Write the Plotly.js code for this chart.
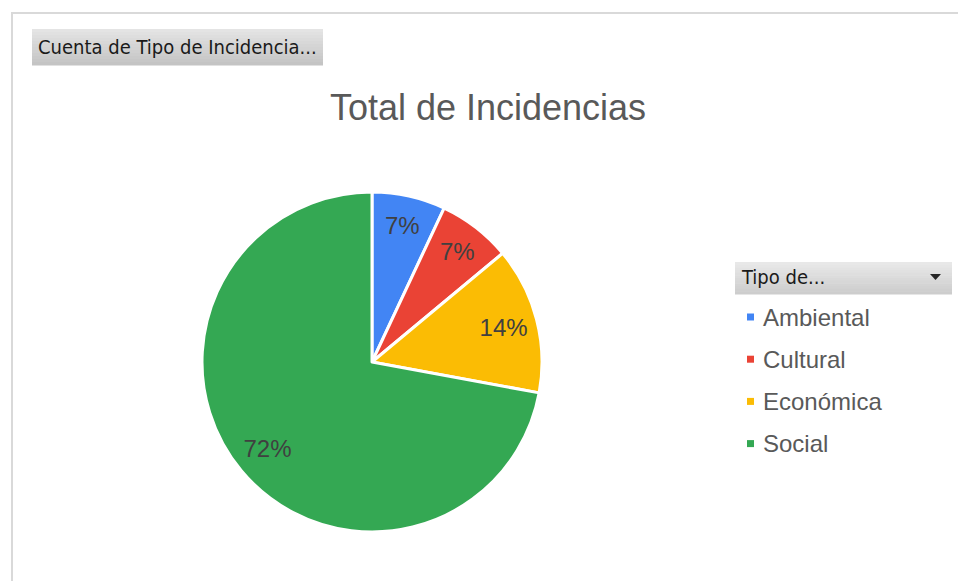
<!DOCTYPE html>
<html>
<head>
<meta charset="utf-8">
<script src="https://cdn.plot.ly/plotly-3.0.1.min.js"></script>
<style>html,body{margin:0;padding:0;background:#fff;}#chart{width:958px;height:581px;}</style>
</head>
<body>
<div id="chart"></div>
<script>
// Data
const categories = ["Ambiental", "Cultural", "Económica", "Social"];
const counts = [3, 3, 6, 31];
const colors = ["#4285F4", "#EA4335", "#FBBC04", "#34A853"];
const chartTitle = "Total de Incidencias";
const fieldButton = "Cuenta de Tipo de Incidencia...";
const legendHeader = "Tipo de...";

const W = 958, H = 581;
const px = x => x / W;
const py = y => 1 - y / H;

const shapes = [];
const annotations = [];

// frame lines
shapes.push({type:'line', xref:'paper', yref:'paper', x0:px(11), x1:px(958), y0:py(13), y1:py(13), line:{color:'#d9d9d9', width:2}});
shapes.push({type:'line', xref:'paper', yref:'paper', x0:px(12), x1:px(12), y0:py(12), y1:py(581), line:{color:'#d9d9d9', width:2}});

// gradient box helper
function gradBox(x0, y0, x1, y1, top, bottom, n) {
  const hex = c => [1,3,5].map(i => parseInt(c.substr(i,2),16));
  const a = hex(top), b = hex(bottom);
  const h = (y1 - y0) / n;
  for (let i = 0; i < n; i++) {
    const t = n === 1 ? 0 : i / (n - 1);
    const c = a.map((v, k) => Math.round(v + (b[k] - v) * t));
    shapes.push({type:'rect', xref:'paper', yref:'paper', layer:'below',
      x0:px(x0), x1:px(x1), y0:py(y0 + i*h), y1:py(y0 + (i+1)*h + 0.5),
      line:{width:0}, fillcolor:`rgb(${c[0]},${c[1]},${c[2]})`});
  }
}

// field button
gradBox(32, 29, 323, 65, '#e4e4e4', '#c4c4c4', 12);
annotations.push({xref:'paper', yref:'paper', x:px(36), y:py(47), xanchor:'left', yanchor:'middle',
  text:fieldButton, showarrow:false, font:{family:'DejaVu Sans Condensed', size:20, color:'#1a1a1a'}});

// legend header
gradBox(735, 262, 952, 294, '#e8e8e8', '#cdcdcd', 12);
annotations.push({xref:'paper', yref:'paper', x:px(739), y:py(277), xanchor:'left', yanchor:'middle',
  text:legendHeader, showarrow:false, font:{family:'DejaVu Sans Condensed', size:20, color:'#1a1a1a'}});
shapes.push({type:'path', xref:'paper', yref:'paper',
  path:`M ${px(930)} ${py(274)} L ${px(941)} ${py(274)} L ${px(935.5)} ${py(280)} Z`,
  fillcolor:'#262626', line:{width:0}});

// legend entries
categories.forEach((c, i) => {
  const yc = 317 + i * 42.2;
  shapes.push({type:'rect', xref:'paper', yref:'paper', x0:px(747), x1:px(754), y0:py(yc-3.5), y1:py(yc+3.5),
    fillcolor:colors[i], line:{width:0}});
  annotations.push({xref:'paper', yref:'paper', x:px(761), y:py(yc), xanchor:'left', yanchor:'middle',
    text:c, showarrow:false, font:{family:'Liberation Sans, Arial', size:24, color:'#595959'}});
});

const cx = 372, cy = 362, r = 170;
const domain = {x:[px(cx - r), px(cx + r)], y:[py(cy + r), py(cy - r)]};

const data = [{
  type:'pie',
  labels:categories,
  values:counts,
  sort:false,
  direction:'clockwise',
  rotation:0,
  marker:{colors:colors, line:{color:'#ffffff', width:3}},
  textinfo:'none',
  hoverinfo:'label+value+percent',
  domain:domain,
  showlegend:false
}, {
  // transparent ring carrying the percentage labels at ~0.8 r
  type:'pie',
  labels:categories,
  values:counts,
  sort:false,
  direction:'clockwise',
  rotation:0,
  hole:0.6,
  marker:{colors:categories.map(() => 'rgba(0,0,0,0)'), line:{width:0}},
  texttemplate:'%{percent:.0%}',
  textposition:'inside',
  insidetextorientation:'horizontal',
  textfont:{family:'Liberation Sans, Arial', size:24, color:'#404040'},
  hoverinfo:'skip',
  domain:domain,
  showlegend:false
}];

const layout = {
  width:W, height:H,
  margin:{l:0, r:0, t:0, b:0},
  paper_bgcolor:'#ffffff',
  showlegend:false,
  title:{text:chartTitle, x:px(488), xanchor:'center', y:py(107), yanchor:'middle', yref:'paper', xref:'paper',
    font:{family:'Liberation Sans, Arial', size:36, color:'#595959'}},
  shapes:shapes,
  annotations:annotations
};

Plotly.newPlot('chart', data, layout, {displayModeBar:false, staticPlot:true});
</script>
</body>
</html>
